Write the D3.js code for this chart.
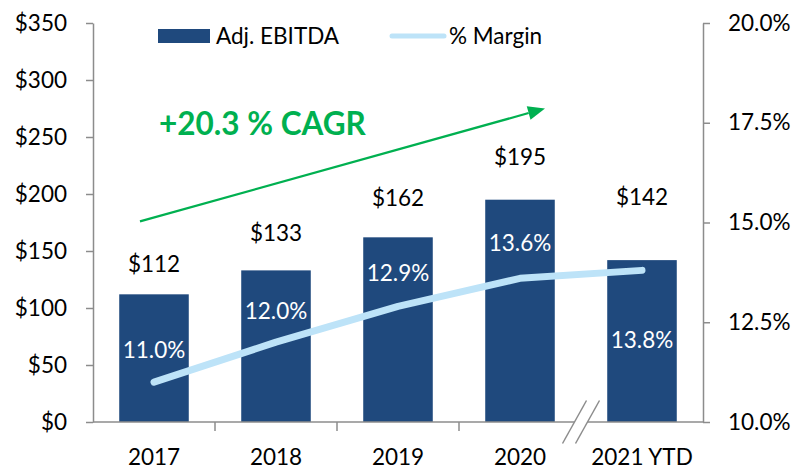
<!DOCTYPE html>
<html><head><meta charset="utf-8">
<script src="https://cdn.jsdelivr.net/npm/d3@7"></script>
<style>
html,body{margin:0;padding:0;background:#fff;}
svg{display:block;font-family:Lato,"Open Sans",sans-serif;}
</style></head>
<body><svg id="c" width="794" height="469"></svg>
<script>
// ---- data ----
const categories = ["2017","2018","2019","2020","2021 YTD"];
const ebitda = [112,133,162,195,142];
const margin = [11.0,12.0,12.9,13.6,13.8];
const leftTicks = [0,50,100,150,200,250,300,350];
const rightTicks = [10,12.5,15,17.5,20];
const cagrText = "+20.3 % CAGR";

// ---- layout ----
const W=794,H=469;
const plot={left:93,right:703,top:23,bottom:422};
const valueLabelLift=[30,37,39,43,63];
const pctLabelShift=[-32,-31,-33,-35,70];
const barColor="#1F497D", lineColor="#BDE3F8", axisColor="#8C8C8C", green="#00B050";
const fs=22.5;

const svg=d3.select("#c");
const x=d3.scaleBand().domain(categories).range([plot.left,plot.right]).paddingInner(0.43).paddingOuter(0.215);
const y=d3.scaleLinear().domain([0,350]).range([plot.bottom,plot.top]);
const yR=d3.scaleLinear().domain([10,20]).range([plot.bottom,plot.top]);
const cx=c=>x(c)+x.bandwidth()/2;
const gapHalf=x.step()*x.paddingInner()/2;

// bars
svg.append("g").selectAll("rect").data(categories).join("rect")
  .attr("x",c=>x(c)).attr("width",x.bandwidth())
  .attr("y",(c,i)=>y(ebitda[i])).attr("height",(c,i)=>y(0)-y(ebitda[i]))
  .attr("fill",barColor);

// left axis
const gL=svg.append("g").attr("transform",`translate(${plot.left},0)`)
  .call(d3.axisLeft(y).tickValues(leftTicks).tickSize(7).tickPadding(19).tickFormat(d=>"$"+d).tickSizeOuter(0));
// right axis
const gR=svg.append("g").attr("transform",`translate(${plot.right},0)`)
  .call(d3.axisRight(yR).tickValues(rightTicks).tickSize(7).tickPadding(18).tickFormat(d=>d.toFixed(1)+"%").tickSizeOuter(0));
// bottom axis (labels)
const gB=svg.append("g").attr("transform",`translate(0,${plot.bottom})`)
  .call(d3.axisBottom(x).tickSize(0).tickPadding(27).tickSizeOuter(0));
// boundary ticks
gB.selectAll("line.bt").data(categories.slice(0,-1)).join("line").attr("class","bt")
  .attr("x1",c=>x(c)+x.bandwidth()+gapHalf).attr("x2",c=>x(c)+x.bandwidth()+gapHalf)
  .attr("y1",0).attr("y2",9).attr("stroke",axisColor).attr("stroke-width",1.5);

[gL,gR,gB].forEach(g=>{
  g.selectAll(".domain").attr("stroke",axisColor).attr("stroke-width",1.5);
  g.selectAll(".tick line").attr("stroke",axisColor).attr("stroke-width",1.5);
  g.selectAll("text").attr("font-size",fs).attr("fill","#000").attr("font-family","Lato");
});
gB.select(".domain").attr("d",`M${plot.left},0H${plot.right}`);

// axis break between last two categories
const bx=x(categories[3])+x.bandwidth()+gapHalf, by=plot.bottom;
const dxB=12, dyB=21.5, sep=6.5;
svg.append("polygon")
  .attr("points",[[bx-sep-dxB,by+dyB+1],[bx-sep+dxB,by-dyB-1],[bx+sep+dxB,by-dyB-1],[bx+sep-dxB,by+dyB+1]].map(p=>p.join(",")).join(" "))
  .attr("fill","#fff");
[-sep,sep].forEach(s=>{
  svg.append("line").attr("x1",bx+s-dxB).attr("y1",by+dyB).attr("x2",bx+s+dxB).attr("y2",by-dyB)
    .attr("stroke",axisColor).attr("stroke-width",1.5);
});

// margin line
svg.append("path").datum(categories)
  .attr("d",d3.line().x(c=>cx(c)).y((c,i)=>yR(margin[i])))
  .attr("fill","none").attr("stroke",lineColor).attr("stroke-width",7)
  .attr("stroke-linecap","round").attr("stroke-linejoin","round");

// value labels
svg.append("g").selectAll("text").data(categories).join("text")
  .attr("x",c=>cx(c)).attr("y",(c,i)=>y(ebitda[i])-valueLabelLift[i]).attr("dy","0.36em")
  .attr("text-anchor","middle").attr("font-size",fs).attr("fill","#000")
  .text((c,i)=>"$"+ebitda[i]);
// pct labels
svg.append("g").selectAll("text").data(categories).join("text")
  .attr("x",c=>cx(c)).attr("y",(c,i)=>yR(margin[i])+pctLabelShift[i]).attr("dy","0.36em")
  .attr("text-anchor","middle").attr("font-size",fs).attr("fill","#fff")
  .text((c,i)=>margin[i].toFixed(1)+"%");

// CAGR arrow (in data units)
const a0=[cx(categories[0])-0.115*x.step(), y(176)];
const a1=[cx(categories[3])+0.205*x.step(), y(275)];
const ang=Math.atan2(a1[1]-a0[1],a1[0]-a0[0]);
const hl=17, hw=7;
const base=[a1[0]-hl*Math.cos(ang), a1[1]-hl*Math.sin(ang)];
svg.append("line").attr("x1",a0[0]).attr("y1",a0[1]).attr("x2",base[0]).attr("y2",base[1])
  .attr("stroke",green).attr("stroke-width",2.2);
svg.append("polygon").attr("points",[
  a1,
  [base[0]+hw*Math.sin(ang), base[1]-hw*Math.cos(ang)],
  [base[0]-hw*Math.sin(ang), base[1]+hw*Math.cos(ang)]
].map(p=>p.join(",")).join(" ")).attr("fill",green);
svg.append("text").attr("x",cx(categories[0])+5).attr("y",y(252))
  .attr("font-size",31.5).attr("font-weight","bold").attr("fill",green).text(cagrText);

// legend
const lg=svg.append("g");
lg.append("rect").attr("x",158).attr("y",29).attr("width",52).attr("height",14).attr("fill",barColor);
lg.append("text").attr("x",216).attr("y",43.5).attr("font-size",fs).text("Adj. EBITDA");
lg.append("line").attr("x1",392).attr("x2",444).attr("y1",36).attr("y2",36)
  .attr("stroke",lineColor).attr("stroke-width",5).attr("stroke-linecap","round");
lg.append("text").attr("x",449).attr("y",43.5).attr("font-size",fs).text("% Margin");
</script></body></html>
